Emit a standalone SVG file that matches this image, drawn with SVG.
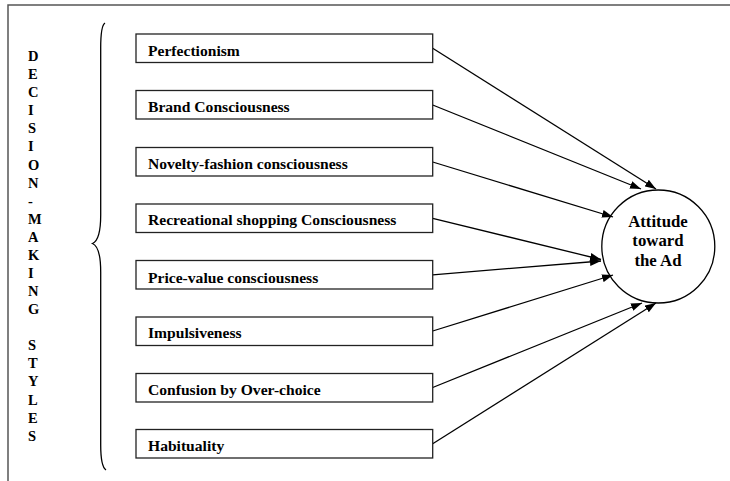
<svg xmlns="http://www.w3.org/2000/svg" width="730" height="481" viewBox="0 0 730 481">
<style>
.box{fill:#fff;stroke:#222;stroke-width:1.3}
.lbl{font-family:"Liberation Serif","Times New Roman",serif;font-weight:bold;font-size:15.6px;fill:#000}
.side{font-family:"Liberation Serif","Times New Roman",serif;font-weight:bold;font-size:14.5px;fill:#000}
.ctr{font-family:"Liberation Serif","Times New Roman",serif;font-weight:bold;font-size:16.8px;fill:#000;text-anchor:middle}
.conn{stroke:#000;stroke-width:1.3;fill:none;marker-end:url(#ah)}
</style>
<defs>
<marker id="ah" markerUnits="userSpaceOnUse" markerWidth="11" markerHeight="8" refX="11" refY="4" orient="auto">
<path d="M0,0 L11,4 L0,8 z" fill="#000"/>
</marker>
</defs>
<rect width="730" height="481" fill="#fff"/>
<g id="frame" stroke="#555" stroke-width="1.5" fill="none">
<path d="M8,481 L8,5 L730,5"/>
</g>
<g id="side-label">
<text class="side" x="28" y="61">D</text>
<text class="side" x="28" y="79.1">E</text>
<text class="side" x="28" y="97.2">C</text>
<text class="side" x="28" y="115.2">I</text>
<text class="side" x="28" y="133.3">S</text>
<text class="side" x="28" y="151.4">I</text>
<text class="side" x="28" y="169.5">O</text>
<text class="side" x="28" y="187.6">N</text>
<text class="side" x="28" y="205.6">-</text>
<text class="side" x="28" y="223.7">M</text>
<text class="side" x="28" y="241.8">A</text>
<text class="side" x="28" y="259.9">K</text>
<text class="side" x="28" y="278">I</text>
<text class="side" x="28" y="296">N</text>
<text class="side" x="28" y="314.1">G</text>
<text class="side" x="28" y="350.3">S</text>
<text class="side" x="28" y="368.4">T</text>
<text class="side" x="28" y="386.4">Y</text>
<text class="side" x="28" y="404.5">L</text>
<text class="side" x="28" y="422.6">E</text>
<text class="side" x="28" y="440.7">S</text>
</g>
<g id="brace">
<path d="M105,23 C101.5,25 100.7,35 100.7,48 L100.7,215 C100.7,232 98.5,241 92.5,243.5 C98.5,246 100.7,255 100.7,272 L100.7,445 C100.7,458 101.5,467 106,470" fill="none" stroke="#000" stroke-width="1.3"/>
</g>
<g id="connectors">
<line class="conn" x1="432.7" y1="48.3" x2="656" y2="189"/>
<line class="conn" x1="432.7" y1="105" x2="641" y2="189"/>
<line class="conn" x1="432.7" y1="162" x2="613" y2="217"/>
<line class="conn" x1="432.7" y1="218.3" x2="601" y2="259.5"/>
<line class="conn" x1="432.7" y1="274.8" x2="601" y2="261"/>
<line class="conn" x1="432.7" y1="331" x2="613" y2="275"/>
<line class="conn" x1="432.7" y1="387.5" x2="642" y2="303"/>
<line class="conn" x1="432.7" y1="443.8" x2="656" y2="303"/>
</g>
<g id="n1"><rect class="box" x="136" y="34" width="296.7" height="28.5"/><text class="lbl" x="148" y="55.5">Perfectionism</text></g>
<g id="n2"><rect class="box" x="136" y="90.5" width="296.7" height="28.5"/><text class="lbl" x="148" y="112">Brand Consciousness</text></g>
<g id="n3"><rect class="box" x="136" y="147.5" width="296.7" height="28.5"/><text class="lbl" x="148" y="169">Novelty-fashion consciousness</text></g>
<g id="n4"><rect class="box" x="136" y="204" width="296.7" height="28.5"/><text class="lbl" x="148" y="225">Recreational shopping Consciousness</text></g>
<g id="n5"><rect class="box" x="136" y="260.5" width="296.7" height="28.5"/><text class="lbl" x="148" y="282.5">Price-value consciousness</text></g>
<g id="n6"><rect class="box" x="136" y="317" width="296.7" height="28.5"/><text class="lbl" x="148" y="338">Impulsiveness</text></g>
<g id="n7"><rect class="box" x="136" y="373.5" width="296.7" height="28.5"/><text class="lbl" x="148" y="394.5">Confusion by Over-choice</text></g>
<g id="n8"><rect class="box" x="136" y="429.5" width="296.7" height="28.5"/><text class="lbl" x="148" y="450.5">Habituality</text></g>
<g id="target">
<circle cx="658.3" cy="246.5" r="56.5" fill="none" stroke="#000" stroke-width="1.3"/>
<text class="ctr" x="658" y="226.7">Attitude</text>
<text class="ctr" x="658" y="246.3">toward</text>
<text class="ctr" x="658" y="266">the Ad</text>
</g>
</svg>
